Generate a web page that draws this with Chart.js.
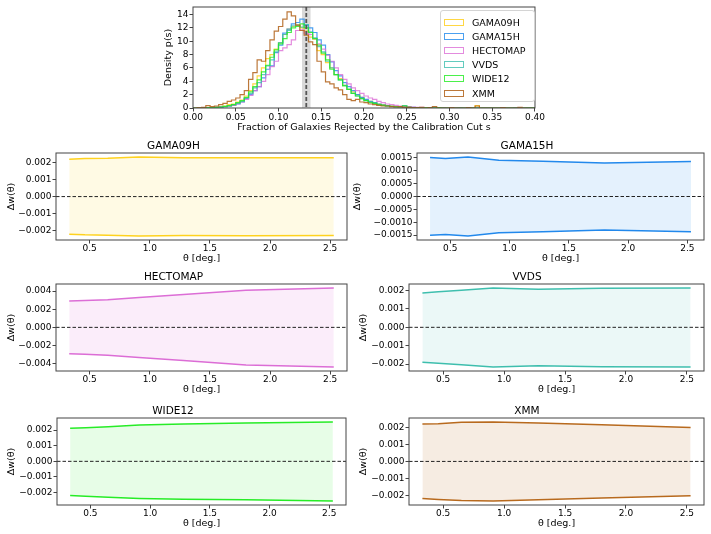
<!DOCTYPE html>
<html>
<head>
<meta charset="utf-8">
<script src="https://cdn.jsdelivr.net/npm/chart.js@4.4.0/dist/chart.umd.min.js"></script>
<style>
  body { margin: 0; background: #fff; }
  #wrap { position: relative; width: 711px; height: 534px; overflow: hidden; }
  #wrap canvas { position: absolute; }
  #legend { position: absolute; left: 440px; top: 10px; width: 95px; height: 92px; border: 1px solid #d4d4d4;
    border-radius: 3px; background: rgba(255,255,255,0.85); font: 9.5px "DejaVu Sans"; color: #000;
    box-sizing: border-box; padding: 4px 0 0 3px; z-index: 2; }
  .item { height: 14.2px; display: flex; align-items: center; }
  .swatch { width: 20px; height: 7px; border: 1.3px solid; margin-right: 8px; box-sizing: border-box; }
</style>
</head>
<body>
<div id="wrap"><div id="legend"></div></div>
<script>
'use strict';
const regions = ['GAMA09H', 'GAMA15H', 'HECTOMAP', 'VVDS', 'WIDE12', 'XMM'];
const lineColors = ['#ffd21f', '#2389ec', '#dc6ed6', '#3fbfae', '#27ec27', '#b86a1e'];
const histColors = ['rgba(255,205,20,0.8)', 'rgba(30,136,236,0.8)', 'rgba(220,110,214,0.8)', 'rgba(60,190,174,0.8)', 'rgba(30,236,30,0.8)', 'rgba(176,96,24,0.85)'];
const fillColors = ['rgba(255,210,31,0.12)', 'rgba(35,137,236,0.12)', 'rgba(220,110,214,0.12)', 'rgba(63,191,174,0.1)', 'rgba(39,236,39,0.11)', 'rgba(184,106,30,0.13)'];

// histogram of the rejected fraction s, bin width 0.005 from 0 to 0.40
const binWidth = 0.005;
const histGama09h = [0, 0, 0, 0, 0.05, 0.1, 0.1, 0.2, 0.3, 0.5,
  0.6, 0.9, 1.2, 1.8, 2.6, 3.6, 4.8, 6.0, 7.4, 8.0,
  8.8, 9.8, 11.0, 11.8, 12.2, 12.4, 12.0, 11.5, 10.6, 10.3,
  8.6, 8.0, 6.8, 6.0, 5.0, 4.4, 3.4, 2.8, 2.4, 2.0,
  1.6, 1.2, 1.0, 0.8, 0.6, 0.5, 0.35, 0.3, 0.2, 0.15,
  0.3, 0.1, 0.05, 0.05, 0.05, 0.05, 0, 0.05, 0, 0,
  0, 0, 0, 0, 0, 0, 0.05, 0.35, 0, 0,
  0, 0, 0, 0, 0, 0, 0, 0, 0, 0];
const histGama15h = [0, 0, 0, 0, 0, 0.05, 0.1, 0.1, 0.2, 0.3,
  0.4, 0.6, 0.9, 1.4, 2.0, 2.6, 3.2, 4.5, 5.8, 6.3,
  8.3, 9.4, 11.2, 11.8, 12.6, 12.8, 13.3, 12.4, 12.0, 11.3,
  10.2, 9.4, 8.0, 6.9, 5.6, 4.8, 3.8, 3.2, 2.6, 2.0,
  1.6, 1.3, 1.0, 0.8, 0.6, 0.45, 0.35, 0.25, 0.2, 0.15,
  0.15, 0.1, 0.1, 0.05, 0.05, 0.05, 0, 0.05, 0, 0.05,
  0, 0, 0, 0.05, 0, 0, 0, 0, 0, 0,
  0, 0, 0, 0, 0, 0, 0.05, 0, 0, 0];
const histHectomap = [0, 0, 0, 0, 0, 0.05, 0.1, 0.15, 0.2, 0.3,
  0.4, 0.6, 0.9, 1.3, 1.9, 2.6, 3.2, 4.0, 5.0, 6.2,
  7.0, 8.6, 9.0, 9.5, 10.2, 11.6, 11.7, 11.2, 11.0, 10.4,
  9.6, 8.8, 7.9, 7.0, 6.0, 5.0, 4.3, 3.6, 3.0, 2.6,
  2.2, 1.8, 1.5, 1.3, 1.0, 0.8, 0.6, 0.5, 0.4, 0.3,
  0.25, 0.2, 0.15, 0.1, 0.1, 0.05, 0.05, 0.05, 0, 0.05,
  0, 0, 0.05, 0, 0, 0, 0, 0, 0, 0,
  0, 0, 0, 0, 0, 0, 0, 0, 0, 0];
const histVvds = [0, 0, 0, 0, 0, 0.05, 0.1, 0.15, 0.2, 0.3,
  0.5, 0.7, 1.0, 1.5, 2.2, 3.0, 3.8, 5.0, 6.3, 7.2,
  8.4, 9.8, 11.0, 11.6, 12.3, 12.4, 12.1, 12.5, 11.4, 10.5,
  9.2, 8.4, 7.0, 6.0, 5.0, 4.2, 3.4, 2.8, 2.2, 1.8,
  1.4, 1.1, 0.9, 0.7, 0.5, 0.4, 0.3, 0.2, 0.2, 0.15,
  0.35, 0.1, 0.05, 0.05, 0.05, 0, 0.05, 0.1, 0, 0,
  0, 0, 0, 0, 0, 0.05, 0, 0, 0, 0,
  0, 0, 0, 0, 0, 0, 0, 0, 0, 0.05];
const histWide12 = [0, 0, 0, 0, 0.05, 0.05, 0.1, 0.15, 0.25, 0.35,
  0.5, 0.8, 1.1, 1.6, 2.4, 3.2, 4.2, 5.4, 6.4, 7.6,
  8.7, 9.6, 10.4, 11.3, 12.0, 12.2, 12.6, 12.0, 11.3, 10.4,
  9.4, 8.2, 7.2, 5.8, 5.0, 4.2, 3.3, 2.8, 2.2, 1.8,
  1.4, 1.1, 0.8, 0.7, 0.5, 0.4, 0.3, 0.25, 0.2, 0.15,
  0.3, 0.1, 0.05, 0.05, 0.05, 0.05, 0, 0, 0.05, 0,
  0, 0, 0, 0, 0, 0, 0, 0, 0, 0,
  0, 0, 0, 0, 0, 0, 0, 0, 0, 0];
const histXmm = [0, 0, 0.05, 0.1, 0.35, 0.2, 0.3, 0.5, 0.7, 1.0,
  1.2, 1.5, 2.0, 2.6, 4.3, 5.3, 7.2, 7.0, 8.6, 10.2,
  11.5, 12.2, 13.3, 14.4, 13.8, 12.4, 11.6, 10.9, 9.9, 9.5,
  7.0, 5.4, 3.9, 3.6, 3.0, 2.7, 2.0, 1.3, 1.1, 1.3,
  0.9, 0.8, 0.6, 0.5, 0.4, 0.3, 0.3, 0.2, 0.15, 0.2,
  0.1, 0.1, 0.05, 0.05, 0.1, 0, 0.05, 0.2, 0, 0,
  0, 0.05, 0, 0, 0, 0.05, 0, 0.3, 0, 0,
  0, 0, 0, 0.05, 0, 0, 0, 0.1, 0, 0];
const cutCentre = 0.1325;
const cutLow = 0.1275;
const cutHigh = 0.1375;
const histXTicks = [0, 0.05, 0.1, 0.15, 0.2, 0.25, 0.3, 0.35, 0.4];
const histYTicks = [0, 2, 4, 6, 8, 10, 12, 14];

// delta w(theta) envelopes
const theta = [0.33, 0.46, 0.65, 0.91, 1.28, 1.80, 2.53];
const thetaTicks = [0.5, 1.0, 1.5, 2.0, 2.5];
const gama09hUpper = [0.00220, 0.00224, 0.00226, 0.00233, 0.00228, 0.00229, 0.00228];
const gama09hLower = [-0.00221, -0.00225, -0.00227, -0.00232, -0.00229, -0.00230, -0.00229];
const gama15hUpper = [0.00152, 0.00148, 0.00154, 0.00141, 0.00137, 0.00130, 0.00136];
const gama15hLower = [-0.00151, -0.00148, -0.00154, -0.00141, -0.00137, -0.00130, -0.00137];
const hectomapUpper = [0.00290, 0.00296, 0.00305, 0.00330, 0.00362, 0.00410, 0.00435];
const hectomapLower = [-0.00290, -0.00297, -0.00307, -0.00333, -0.00366, -0.00415, -0.00438];
const vvdsUpper = [0.00187, 0.00193, 0.00201, 0.00214, 0.00207, 0.00212, 0.00214];
const vvdsLower = [-0.00190, -0.00195, -0.00203, -0.00216, -0.00209, -0.00214, -0.00216];
const wide12Upper = [0.00211, 0.00215, 0.00221, 0.00232, 0.00239, 0.00245, 0.00252];
const wide12Lower = [-0.00219, -0.00224, -0.00230, -0.00237, -0.00242, -0.00246, -0.00254];
const xmmUpper = [0.00221, 0.00222, 0.00231, 0.00233, 0.00227, 0.00216, 0.00200];
const xmmLower = [-0.00219, -0.00225, -0.00231, -0.00234, -0.00227, -0.00216, -0.00202];
const ticks3 = [-0.002, -0.001, 0, 0.001, 0.002];
const gama15hTicks = [-0.0015, -0.001, -0.0005, 0, 0.0005, 0.001, 0.0015];
const hectomapTicks = [-0.004, -0.002, 0, 0.002, 0.004];

const histData = [histGama09h, histGama15h, histHectomap, histVvds, histWide12, histXmm];
const upperData = [gama09hUpper, gama15hUpper, hectomapUpper, vvdsUpper, wide12Upper, xmmUpper];
const lowerData = [gama09hLower, gama15hLower, hectomapLower, vvdsLower, wide12Lower, xmmLower];
const yTicks = [ticks3, gama15hTicks, hectomapTicks, ticks3, ticks3, ticks3];
const yDecimals = [3, 4, 3, 3, 3, 3];

// page layout of the panels (plot boxes in page px)
const panelBoxes = [
  {left: 56, right: 347, top: 153, bottom: 240, canvasLeft: 0, titlePad: 6},
  {left: 417, right: 704, top: 153, bottom: 240, canvasLeft: 350, titlePad: 2.3},
  {left: 56, right: 347, top: 284, bottom: 371, canvasLeft: 0, titlePad: 6},
  {left: 409, right: 704, top: 284, bottom: 371, canvasLeft: 350, titlePad: 8.3},
  {left: 57, right: 346, top: 418, bottom: 505, canvasLeft: 0, titlePad: 6},
  {left: 409, right: 704, top: 418, bottom: 505, canvasLeft: 350, titlePad: 8.3}
];

const family = '"DejaVu Sans", sans-serif';
const wrap = document.getElementById('wrap');

function minus(s) {
  return s.replace('-', '\u2212');
}

function addCanvas(left, top, width, height) {
  const c = document.createElement('canvas');
  c.width = width;
  c.height = height;
  c.style.left = left + 'px';
  c.style.top = top + 'px';
  c.style.width = width + 'px';
  c.style.height = height + 'px';
  wrap.appendChild(c);
  return c;
}

const framePlugin = {
  id: 'frame',
  afterDraw(chart) {
    const {ctx, chartArea: a} = chart;
    ctx.save();
    ctx.strokeStyle = '#444';
    ctx.lineWidth = 1;
    ctx.strokeRect(a.left, a.top, a.right - a.left, a.bottom - a.top);
    ctx.restore();
  }
};

const zeroLinePlugin = {
  id: 'zeroLine',
  afterDatasetsDraw(chart) {
    const {ctx, chartArea: a, scales} = chart;
    const y = scales.y.getPixelForValue(0);
    ctx.save();
    ctx.strokeStyle = '#222';
    ctx.lineWidth = 1;
    ctx.setLineDash([3.5, 2]);
    ctx.beginPath();
    ctx.moveTo(a.left, y);
    ctx.lineTo(a.right, y);
    ctx.stroke();
    ctx.restore();
  }
};

const cutPlugin = {
  id: 'cut',
  beforeDatasetsDraw(chart) {
    const {ctx, chartArea: a, scales} = chart;
    const x0 = scales.x.getPixelForValue(cutLow);
    const x1 = scales.x.getPixelForValue(cutHigh);
    ctx.save();
    ctx.fillStyle = 'rgba(170,170,170,0.45)';
    ctx.fillRect(x0, a.top, x1 - x0, a.bottom - a.top);
    ctx.restore();
  },
  afterDatasetsDraw(chart) {
    const {ctx, chartArea: a, scales} = chart;
    const x = scales.x.getPixelForValue(cutCentre);
    ctx.save();
    ctx.strokeStyle = '#555';
    ctx.lineWidth = 1.8;
    ctx.setLineDash([4, 2]);
    ctx.beginPath();
    ctx.moveTo(x, a.top);
    ctx.lineTo(x, a.bottom);
    ctx.stroke();
    ctx.restore();
  }
};

function axisCommon(size) {
  return {
    grid: {drawOnChartArea: false, drawTicks: true, tickLength: 3.5, color: '#444'},
    border: {display: false},
    ticks: {font: {family: family, size: size}, color: '#000', padding: 1, autoSkip: false, maxRotation: 0}
  };
}

// ---- top histogram ----
function stepPoints(values) {
  const pts = [{x: 0, y: 0}];
  values.forEach((v, i) => pts.push({x: i * binWidth, y: v}));
  pts.push({x: values.length * binWidth, y: values[values.length - 1]});
  pts.push({x: values.length * binWidth, y: 0});
  return pts;
}

const histMax = Math.max(...histData.map(h => Math.max(...h)));
const histCanvas = addCanvas(130, 0, 416, 136);
const hx = axisCommon(9);
const hy = axisCommon(9);
new Chart(histCanvas.getContext('2d'), {
  type: 'line',
  data: {
    datasets: regions.map((r, i) => ({
      label: r,
      data: stepPoints(histData[i]),
      stepped: 'after',
      borderColor: histColors[i],
      borderWidth: 1.2,
      pointRadius: 0,
      fill: false,
      order: regions.length - i
    }))
  },
  options: {
    responsive: false,
    animation: false,
    layout: {padding: {left: 0, right: 10, top: 7, bottom: 0}},
    plugins: {legend: {display: false}, tooltip: {enabled: false}},
    scales: {
      x: Object.assign(hx, {
        type: 'linear', min: 0, max: 0.4,
        afterBuildTicks: s => { s.ticks = histXTicks.map(v => ({value: v})); },
        afterFit: s => { s.height = 28; },
        ticks: Object.assign(hx.ticks, {callback: v => v.toFixed(2)}),
        title: {display: true, text: 'Fraction of Galaxies Rejected by the Calibration Cut s',
          font: {family: family, size: 9.5}, color: '#000', padding: {top: 0, bottom: 2.3}}
      }),
      y: Object.assign(hy, {
        type: 'linear', min: 0, max: histMax * 1.05,
        afterBuildTicks: s => { s.ticks = histYTicks.map(v => ({value: v})); },
        afterFit: s => { s.width = 63; },
        ticks: Object.assign(hy.ticks, {callback: v => String(v)}),
        title: {display: true, text: 'Density p(s)', font: {family: family, size: 9.5}, color: '#000',
          padding: {top: 33, bottom: 0}}
      })
    }
  },
  plugins: [cutPlugin, framePlugin]
});

const legendBox = document.getElementById('legend');
regions.forEach((r, i) => {
  const item = document.createElement('div');
  item.className = 'item';
  const sw = document.createElement('span');
  sw.className = 'swatch';
  sw.style.borderColor = histColors[i];
  item.appendChild(sw);
  item.appendChild(document.createTextNode(r));
  legendBox.appendChild(item);
});

// ---- delta w panels ----
const thetaPad = (Math.max(...theta) - Math.min(...theta)) * 0.05;
const titleH = 16;
const xAxisH = 26;

regions.forEach((name, i) => {
  const box = panelBoxes[i];
  const upper = upperData[i];
  const lower = lowerData[i];
  const yMax = Math.max(...upper);
  const yMin = Math.min(...lower);
  const yPad = (yMax - yMin) * 0.05;
  const yw = box.left - box.canvasLeft;
  const canvas = addCanvas(box.canvasLeft, box.top - titleH, box.right + 5 - box.canvasLeft,
    titleH + (box.bottom - box.top) + xAxisH);
  const sx = axisCommon(9);
  const sy = axisCommon(9);
  new Chart(canvas.getContext('2d'), {
    type: 'line',
    data: {
      datasets: [
        {data: theta.map((t, k) => ({x: t, y: upper[k]})), borderColor: lineColors[i],
          backgroundColor: fillColors[i], fill: '+1', borderWidth: 1.5, pointRadius: 0, tension: 0},
        {data: theta.map((t, k) => ({x: t, y: lower[k]})), borderColor: lineColors[i],
          fill: false, borderWidth: 1.5, pointRadius: 0, tension: 0}
      ]
    },
    options: {
      responsive: false,
      animation: false,
      layout: {padding: {left: 0, right: 5, top: 0, bottom: 0}},
      plugins: {
        legend: {display: false},
        tooltip: {enabled: false},
        title: {display: true, text: name, color: '#000', font: {family: family, size: 10.5, weight: 'normal'},
          padding: {top: 3, bottom: 0.4}}
      },
      scales: {
        x: Object.assign(sx, {
          type: 'linear', min: Math.min(...theta) - thetaPad, max: Math.max(...theta) + thetaPad,
          afterBuildTicks: s => { s.ticks = thetaTicks.map(v => ({value: v})); },
          afterFit: s => { s.height = xAxisH; },
          ticks: Object.assign(sx.ticks, {padding: 0, callback: v => v.toFixed(1)}),
          title: {display: true, text: '\u03b8 [deg.]', font: {family: family, size: 9.5}, color: '#000',
            padding: {top: 0, bottom: 1.8}}
        }),
        y: Object.assign(sy, {
          type: 'linear', min: yMin - yPad, max: yMax + yPad,
          afterBuildTicks: s => { s.ticks = yTicks[i].map(v => ({value: v})); },
          afterFit: s => { s.width = yw; },
          ticks: Object.assign(sy.ticks, {callback: v => minus(v.toFixed(yDecimals[i]))}),
          title: {display: true, text: '\u0394w(\u03b8)', font: {family: family, size: 9.5}, color: '#000',
            padding: {top: box.titlePad, bottom: 0}}
        })
      }
    },
    plugins: [zeroLinePlugin, framePlugin]
  });
});
</script>
</body>
</html>
